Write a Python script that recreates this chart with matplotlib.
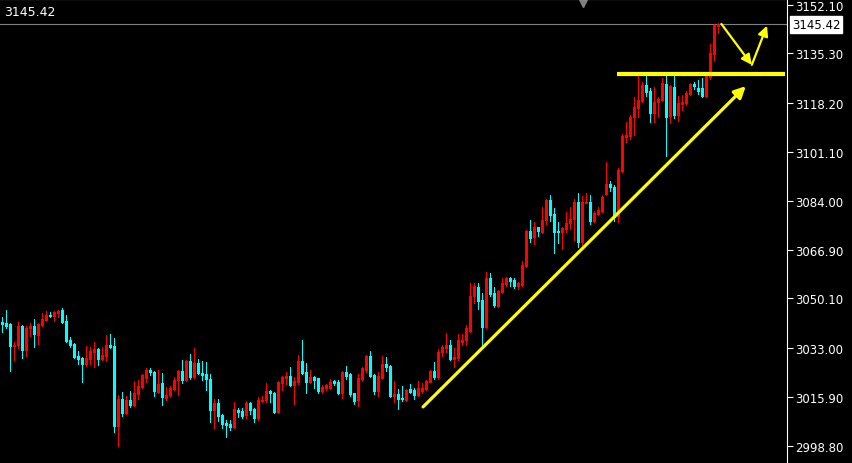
import numpy as np
import matplotlib
matplotlib.use("Agg")
import matplotlib.pyplot as plt
import matplotlib.transforms as mtransforms

# OHLC data (one candle per bar)
opens = [
    3041.9, 3041.6, 3041.2, 3033.6, 3033.9, 3040.5, 3032.2, 3039.8, 3040.5, 3037.4,
    3040.9, 3042.6, 3044.3, 3044.0, 3045.0, 3046.1, 3042.3, 3035.6, 3034.3, 3030.1,
    3029.4, 3027.3, 3029.0, 3031.5, 3032.5, 3029.0, 3030.1, 3033.9, 3033.6, 3005.8,
    3015.1, 3010.3, 3014.8, 3013.1, 3016.9, 3019.3, 3022.4, 3025.2, 3024.5, 3017.6,
    3020.7, 3015.5, 3016.5, 3018.6, 3021.8, 3024.9, 3021.8, 3028.3, 3022.8, 3027.6,
    3024.2, 3023.9, 3022.1, 3011.3, 3013.7, 3009.6, 3006.8, 3006.5, 3005.4, 3011.3,
    3011.0, 3009.6, 3013.7, 3011.7, 3008.5, 3014.5, 3014.8, 3017.9, 3017.2, 3010.6,
    3020.7, 3022.4, 3023.2, 3020.0, 3021.1, 3028.3, 3024.5, 3021.1, 3022.8, 3022.4,
    3017.9, 3018.9, 3018.9, 3021.4, 3021.1, 3017.2, 3024.5, 3023.9, 3017.2, 3014.8,
    3022.1, 3025.2, 3030.1, 3023.5, 3017.9, 3022.4, 3027.3, 3026.6, 3016.2, 3016.9,
    3015.5, 3014.8, 3018.6, 3018.3, 3016.5, 3017.9, 3018.6, 3021.1, 3024.9, 3022.8,
    3031.5, 3032.9, 3033.9, 3029.0, 3029.4, 3034.9, 3035.6, 3038.9, 3050.9, 3054.0,
    3049.6, 3040.2, 3057.2, 3052.0, 3047.5, 3052.3, 3055.1, 3057.2, 3056.5, 3054.4,
    3054.8, 3061.4, 3073.5, 3071.4, 3074.9, 3073.2, 3077.4, 3084.3, 3079.4, 3073.5,
    3073.2, 3074.2, 3076.3, 3077.7, 3083.6, 3069.7, 3083.3, 3083.6, 3077.0, 3079.4,
    3080.5, 3086.4, 3089.9, 3088.8, 3078.7, 3094.4, 3106.2, 3106.6, 3113.2, 3116.3,
    3118.7, 3124.3, 3122.2, 3114.6, 3118.4, 3119.1, 3124.6, 3113.5, 3123.6, 3113.9,
    3117.7, 3118.0, 3121.2, 3124.6, 3123.2, 3123.2, 3120.5, 3127.1, 3135.1, 3144.8,
]
highs = [
    3043.6, 3046.1, 3041.5, 3034.9, 3041.9, 3040.8, 3040.5, 3041.6, 3042.9, 3041.6,
    3045.0, 3045.7, 3045.4, 3045.7, 3046.1, 3046.8, 3044.3, 3036.7, 3034.6, 3031.8,
    3029.7, 3033.6, 3033.2, 3034.9, 3032.9, 3033.2, 3037.4, 3037.7, 3036.3, 3016.5,
    3017.6, 3016.2, 3017.9, 3021.4, 3021.8, 3023.9, 3025.9, 3025.9, 3024.8, 3025.2,
    3024.2, 3019.3, 3019.6, 3022.8, 3025.2, 3028.7, 3028.7, 3030.8, 3032.9, 3029.0,
    3028.3, 3027.9, 3023.9, 3015.1, 3015.1, 3009.9, 3007.9, 3007.9, 3014.1, 3012.0,
    3012.0, 3014.4, 3014.1, 3012.0, 3015.8, 3016.2, 3020.7, 3018.3, 3017.6, 3021.4,
    3023.2, 3024.5, 3026.3, 3022.8, 3030.4, 3035.6, 3027.6, 3025.2, 3023.1, 3022.6,
    3020.0, 3020.4, 3022.1, 3021.6, 3021.8, 3024.9, 3026.6, 3024.1, 3017.4, 3023.9,
    3026.3, 3030.4, 3031.8, 3023.9, 3024.5, 3030.1, 3029.7, 3026.9, 3021.4, 3018.6,
    3019.6, 3018.6, 3020.4, 3018.9, 3021.4, 3020.7, 3021.6, 3025.2, 3028.0, 3032.5,
    3033.9, 3038.1, 3035.6, 3032.9, 3037.7, 3037.7, 3040.9, 3055.5, 3055.5, 3055.5,
    3052.0, 3059.3, 3058.9, 3054.0, 3053.0, 3057.2, 3057.6, 3057.4, 3057.2, 3055.8,
    3063.1, 3073.9, 3077.4, 3076.7, 3075.1, 3081.9, 3084.7, 3086.0, 3081.5, 3076.7,
    3074.9, 3080.1, 3081.9, 3084.7, 3086.7, 3085.7, 3086.7, 3086.0, 3080.5, 3081.9,
    3086.0, 3097.5, 3090.9, 3089.5, 3095.4, 3107.3, 3111.4, 3113.9, 3120.1, 3127.4,
    3125.3, 3127.4, 3123.2, 3123.6, 3120.1, 3126.7, 3127.4, 3124.3, 3127.4, 3120.5,
    3120.8, 3122.2, 3125.0, 3125.3, 3126.0, 3126.7, 3128.5, 3138.5, 3145.5, 3145.8,
]
lows = [
    3038.4, 3039.8, 3024.9, 3028.7, 3032.9, 3029.4, 3030.1, 3037.0, 3033.2, 3034.3,
    3040.5, 3042.3, 3043.6, 3042.3, 3043.6, 3041.6, 3035.0, 3033.2, 3029.4, 3027.3,
    3021.1, 3026.6, 3027.3, 3026.3, 3026.9, 3028.7, 3028.3, 3032.9, 3003.7, 2998.8,
    3009.2, 3009.9, 3012.4, 3012.8, 3015.1, 3019.0, 3021.1, 3023.5, 3016.2, 3017.3,
    3013.1, 3014.8, 3015.8, 3018.3, 3016.5, 3020.7, 3021.4, 3022.1, 3022.6, 3023.9,
    3021.8, 3018.3, 3007.2, 3005.1, 3007.5, 3005.1, 3001.9, 3004.4, 3005.1, 3008.9,
    3008.5, 3008.5, 3009.9, 3007.2, 3007.8, 3014.1, 3014.1, 3014.1, 3010.3, 3010.3,
    3018.3, 3020.4, 3019.6, 3013.4, 3020.4, 3024.0, 3017.2, 3020.7, 3018.9, 3017.2,
    3017.2, 3018.3, 3018.6, 3020.0, 3017.0, 3015.5, 3022.1, 3016.2, 3013.4, 3012.7,
    3021.4, 3024.5, 3022.8, 3016.9, 3016.2, 3022.1, 3024.9, 3016.0, 3014.1, 3011.7,
    3014.5, 3014.6, 3017.2, 3015.1, 3016.2, 3017.2, 3018.3, 3020.9, 3022.1, 3022.1,
    3030.1, 3031.5, 3028.7, 3026.3, 3028.7, 3033.9, 3033.9, 3038.6, 3048.5, 3046.4,
    3033.2, 3039.9, 3050.9, 3047.1, 3047.1, 3052.0, 3054.4, 3054.4, 3053.7, 3053.4,
    3054.4, 3061.0, 3069.7, 3069.0, 3071.8, 3073.0, 3076.0, 3077.0, 3065.9, 3069.4,
    3067.3, 3073.2, 3074.2, 3070.4, 3068.0, 3068.3, 3083.2, 3076.0, 3076.7, 3079.1,
    3080.3, 3086.0, 3087.4, 3077.0, 3076.7, 3094.0, 3104.5, 3105.5, 3106.9, 3113.2,
    3118.4, 3120.5, 3111.4, 3111.4, 3113.2, 3118.7, 3099.6, 3111.1, 3112.8, 3111.8,
    3115.6, 3117.3, 3120.8, 3122.9, 3121.2, 3120.1, 3120.1, 3126.4, 3132.6, 3142.4,
]
closes = [
    3041.2, 3040.5, 3033.6, 3033.9, 3040.5, 3032.2, 3039.8, 3040.5, 3037.7, 3041.2,
    3042.9, 3044.3, 3044.0, 3045.4, 3045.7, 3041.9, 3035.3, 3033.9, 3029.7, 3029.0,
    3027.3, 3029.4, 3031.8, 3032.5, 3029.0, 3030.4, 3033.9, 3033.2, 3005.8, 3015.1,
    3010.3, 3014.8, 3013.1, 3017.2, 3019.6, 3023.5, 3025.2, 3024.5, 3017.9, 3020.4,
    3015.8, 3016.5, 3018.9, 3021.8, 3024.9, 3021.8, 3028.3, 3022.8, 3027.6, 3024.2,
    3023.5, 3022.1, 3011.3, 3013.7, 3009.2, 3006.5, 3006.1, 3005.4, 3011.7, 3010.6,
    3009.2, 3013.7, 3011.3, 3008.5, 3014.8, 3014.8, 3017.9, 3017.2, 3010.6, 3021.1,
    3022.8, 3023.2, 3020.0, 3021.4, 3028.3, 3024.2, 3021.1, 3022.8, 3021.8, 3017.9,
    3019.3, 3020.0, 3021.1, 3020.7, 3017.2, 3024.5, 3023.1, 3016.9, 3014.5, 3022.4,
    3025.9, 3030.1, 3023.1, 3017.9, 3023.1, 3027.3, 3026.3, 3016.2, 3016.9, 3015.1,
    3015.1, 3018.3, 3017.6, 3016.5, 3018.9, 3018.9, 3021.4, 3024.9, 3022.8, 3031.5,
    3033.2, 3033.9, 3029.0, 3029.7, 3035.6, 3035.6, 3039.8, 3050.9, 3054.4, 3049.2,
    3040.2, 3057.2, 3051.6, 3047.8, 3052.7, 3055.5, 3057.2, 3056.2, 3054.4, 3055.5,
    3061.7, 3073.5, 3071.1, 3074.9, 3073.5, 3077.4, 3084.3, 3079.1, 3073.2, 3073.2,
    3074.6, 3076.3, 3077.7, 3083.6, 3069.7, 3083.6, 3083.6, 3077.0, 3079.8, 3080.8,
    3085.4, 3089.9, 3088.8, 3078.4, 3094.7, 3106.6, 3106.9, 3113.2, 3116.6, 3119.1,
    3124.3, 3121.9, 3114.6, 3118.4, 3119.4, 3125.0, 3113.2, 3123.9, 3113.9, 3118.0,
    3118.4, 3121.5, 3124.6, 3123.9, 3122.2, 3120.5, 3127.4, 3135.4, 3145.1, 3145.42,
]

price_ticks = [3152.10, 3135.30, 3118.20, 3101.10, 3084.00, 3066.90, 3050.10, 3033.00, 3015.90, 2998.80]
last_price = 3145.42

# hand-drawn annotations (bar index, price)
trend_start = (105.2, 3012.4)
trend_end = (185.9, 3123.9)
resist_level = 3128.0
resist_from, resist_to = 153.7, 195.7
zig = [(179.8, 3145.5), (187.4, 3131.3), (191.2, 3144.9)]

UP = "#ff0000"
DOWN = "#00ffff"
YEL = "#ffff00"

o = np.array(opens)
h = np.array(highs)
l = np.array(lows)
c = np.array(closes)
x = np.arange(len(o))
cols = np.where(c >= o, UP, DOWN)

fig = plt.figure(figsize=(8.53, 4.64), dpi=100, facecolor="black")
ax = fig.add_axes([0, 0, 787 / 853, 1])
ax.set_facecolor("black")

# wicks 1px, bodies 3px
ax.vlines(x, l, h, colors=cols, linewidth=0.72, antialiased=False)
body_lo = np.minimum(o, c)
body_hi = np.maximum(np.maximum(o, c), body_lo + 0.4)
ax.vlines(x, body_lo, body_hi, colors=cols, linewidth=2.16, antialiased=False,
          capstyle="butt")

# price line
ax.axhline(last_price, color="#808080", linewidth=0.8, zorder=1)

# annotations
ax.annotate("", xy=trend_end, xytext=trend_start,
            arrowprops=dict(arrowstyle="-|>", color=YEL, lw=2.3, mutation_scale=17,
                            shrinkA=0, shrinkB=0))
ax.hlines(resist_level, resist_from, resist_to, color=YEL, linewidth=3, clip_on=False)
for a, b in zip(zig[:-1], zig[1:]):
    ax.annotate("", xy=b, xytext=a,
                arrowprops=dict(arrowstyle="-|>", color=YEL, lw=1.6, mutation_scale=15,
                                shrinkA=0, shrinkB=0))

ax.set_xlim(-0.575, 196.2)
ax.set_ylim(2992.9, 3154.18)

for s in ["left", "bottom"]:
    ax.spines[s].set_visible(False)
ax.spines["right"].set_color("white")
ax.spines["top"].set_color("white")
ax.set_xticks([])
ax.yaxis.tick_right()
ax.set_yticks(price_ticks)
ax.set_yticklabels([f"{v:.2f}" for v in price_ticks])
ax.tick_params(axis="y", colors="white", labelcolor="white", length=4, width=0.8,
               labelsize=8.5, pad=2)

# current price tag on the axis
trans = mtransforms.blended_transform_factory(ax.transAxes, ax.transData)
ax.text(1.006, last_price, f"{last_price:.2f}", transform=trans, color="black",
        fontsize=8.5, va="center", ha="left",
        bbox=dict(boxstyle="square,pad=0.18", facecolor="white", edgecolor="white"))

# chart shift marker
ax.plot([583 / 787], [0.992], marker="v", color="#808080", markersize=6,
        transform=ax.transAxes, clip_on=False)

fig.text(4 / 853, 1 - 12 / 464, f"{last_price:.2f}", color="white", fontsize=9,
         va="center", ha="left")

fig.savefig("out.png", dpi=100, facecolor="black")
